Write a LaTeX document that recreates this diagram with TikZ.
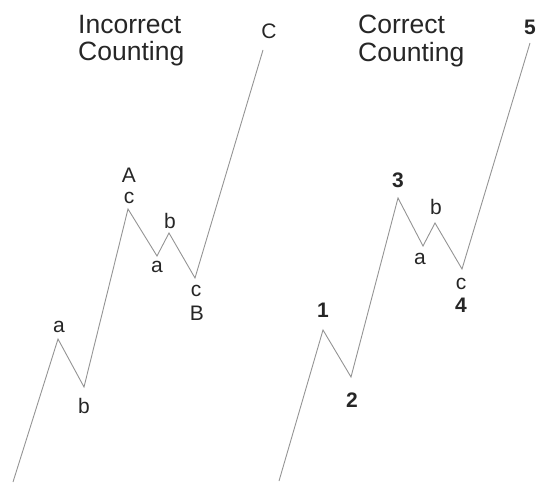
\documentclass[tikz,border=0pt]{standalone}
\usepackage{fontspec}
\setmainfont{Liberation Sans}
\usetikzlibrary{positioning}

\begin{document}
\begin{tikzpicture}[x=1pt, y=-1pt,
  wave/.style={draw=black!42, line width=0.9pt, line join=miter},
  title/.style={anchor=north west, align=left, inner sep=0pt,
    font=\fontsize{26.5}{27.5}\selectfont, text=black!85},
  capl/.style={inner sep=0pt, font=\fontsize{21}{21}\selectfont, text=black!85},
  subl/.style={inner sep=0pt, font=\fontsize{21}{21}\selectfont, text=black!85},
  numl/.style={inner sep=0pt, font=\fontsize{21}{21}\selectfont\bfseries, text=black!85}
]
\useasboundingbox (0,0) rectangle (536,484);

%% -- Incorrect counting --
\node[title] (titleL) at (78,15) {Incorrect\\Counting};

\coordinate (L0) at (13,482);
\coordinate (L1) at (58,339);
\coordinate (L2) at (84,387);
\coordinate (L3) at (128,209);
\coordinate (L4) at (157,256);
\coordinate (L5) at (169,233);
\coordinate (L6) at (195,278);
\coordinate (L7) at (263,50);
\draw[wave] (L0) -- (L1) -- (L2) -- (L3) -- (L4) -- (L5) -- (L6) -- (L7);

\node[subl] (La1) at (59,327) {a};
\node[subl] (Lb1) at (84,406) {b};
\node[subl] (Lc1) at (129,198) {c};
\node[capl] (LA)  at (129,175) {A};
\node[subl] (La2) at (157,267) {a};
\node[subl] (Lb2) at (170,221) {b};
\node[subl] (Lc2) at (196,291) {c};
\node[capl] (LB)  at (197,313) {B};
\node[capl] (LC)  at (269,31)  {C};

%% -- Correct counting --
\node[title] (titleR) at (358,15) {Correct\\Counting};

\coordinate (R0) at (279,481);
\coordinate (R1) at (323,330);
\coordinate (R2) at (351,377);
\coordinate (R3) at (398,198);
\coordinate (R4) at (423,246);
\coordinate (R5) at (435,223);
\coordinate (R6) at (462,269);
\coordinate (R7) at (530,43);
\draw[wave] (R0) -- (R1) -- (R2) -- (R3) -- (R4) -- (R5) -- (R6) -- (R7);

\node[numl] (R1n) at (323,310) {1};
\node[numl] (R2n) at (352,400) {2};
\node[numl] (R3n) at (398,180) {3};
\node[subl] (Ra)  at (420,259) {a};
\node[subl] (Rb)  at (436,207) {b};
\node[subl] (Rc)  at (461,284) {c};
\node[numl] (R4n) at (461,305) {4};
\node[numl] (R5n) at (530,27)  {5};

\end{tikzpicture}
\end{document}
